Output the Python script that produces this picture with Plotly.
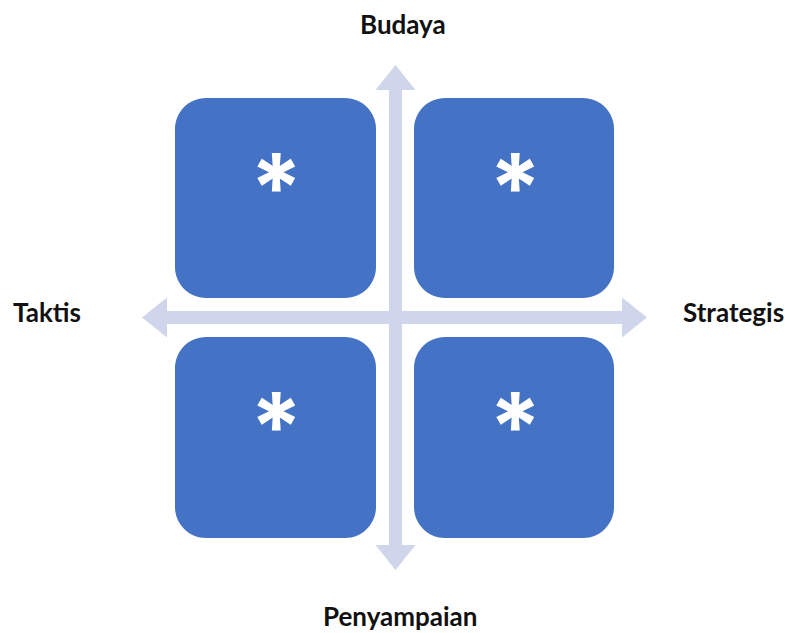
import plotly.graph_objects as go

# ---- data ----
axis_labels = ["Budaya", "Penyampaian", "Taktis", "Strategis"]
quadrant_marks = ["*", "*", "*", "*"]

W, H = 785, 633
BOX_COLOR = "#4472C4"
ARROW_COLOR = "#CFD5EA"

# layout geometry (pixel coords, y downward)
cx, cy = 395.5, 317.5
boxes = [(175, 98, 376, 298), (414, 98, 614, 298), (175, 337, 376, 538), (414, 337, 614, 538)]
radius = 31


def rounded_rect(x0, y0, x1, y1, r):
    k = 0.5523 * r
    return (f"M{x0 + r},{y0} L{x1 - r},{y0} C{x1 - r + k},{y0} {x1},{y0 + r - k} {x1},{y0 + r} "
            f"L{x1},{y1 - r} C{x1},{y1 - r + k} {x1 - r + k},{y1} {x1 - r},{y1} "
            f"L{x0 + r},{y1} C{x0 + r - k},{y1} {x0},{y1 - r + k} {x0},{y1 - r} "
            f"L{x0},{y0 + r} C{x0},{y0 + r - k} {x0 + r - k},{y0} {x0 + r},{y0} Z")


shapes = []
sw = 6.5    # shaft half width
hw = 20     # head half width
hl = 25     # head length
top, bottom, left, right = 65, 570, 142, 647
v = (f"M{cx},{top} L{cx + hw},{top + hl} L{cx + sw},{top + hl} L{cx + sw},{bottom - hl} "
     f"L{cx + hw},{bottom - hl} L{cx},{bottom} L{cx - hw},{bottom - hl} L{cx - sw},{bottom - hl} "
     f"L{cx - sw},{top + hl} L{cx - hw},{top + hl} Z")
h = (f"M{left},{cy} L{left + hl},{cy - hw} L{left + hl},{cy - sw} L{right - hl},{cy - sw} "
     f"L{right - hl},{cy - hw} L{right},{cy} L{right - hl},{cy + hw} L{right - hl},{cy + sw} "
     f"L{left + hl},{cy + sw} L{left + hl},{cy + hw} Z")
for p in (v, h):
    shapes.append(dict(type="path", path=p, xref="x", yref="y", fillcolor=ARROW_COLOR,
                       line=dict(width=0), layer="below"))
for (x0, y0, x1, y1) in boxes:
    shapes.append(dict(type="path", path=rounded_rect(x0, y0, x1, y1, radius), xref="x", yref="y",
                       fillcolor=BOX_COLOR, line=dict(width=0), layer="below"))

fig = go.Figure()
fig.add_trace(go.Scatter(x=[0, W], y=[0, H], mode="markers", marker=dict(opacity=0),
                         hoverinfo="skip", showlegend=False))

label_pos = [(403, 24), (400, 616), (47, 312), (733, 312)]
for txt, (x, y) in zip(axis_labels, label_pos):
    fig.add_annotation(x=x, y=y, xref="x", yref="y", text=f"<b>{txt}</b>", showarrow=False,
                       xanchor="center", yanchor="middle",
                       font=dict(family="Lato", size=26, color="#111111"))

for txt, (x0, y0, x1, y1) in zip(quadrant_marks, boxes):
    fig.add_annotation(x=(x0 + x1) / 2 + 1, y=y0 + 89, xref="x", yref="y", text=f"<b>{txt}</b>",
                       showarrow=False, xanchor="center", yanchor="middle",
                       font=dict(family="Inter", size=94, color="white"))

fig.update_xaxes(range=[0, W], visible=False, fixedrange=True)
fig.update_yaxes(range=[H, 0], visible=False, fixedrange=True)
fig.update_layout(width=W, height=H, margin=dict(l=0, r=0, t=0, b=0),
                  plot_bgcolor="white", paper_bgcolor="white", shapes=shapes)
fig.write_html("out.html", config=dict(displayModeBar=False),
               post_script="document.body.style.margin='0';document.body.style.overflow='hidden';")
